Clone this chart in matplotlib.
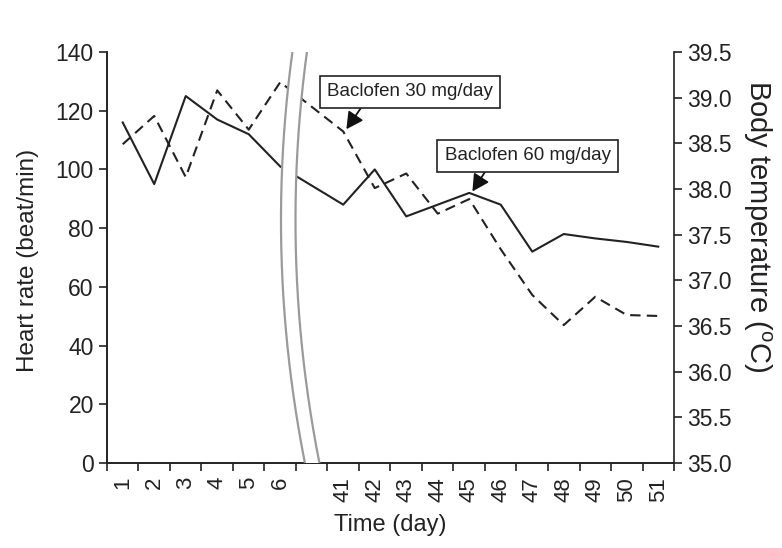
import numpy as np
import matplotlib
matplotlib.use("Agg")
import matplotlib.pyplot as plt
from matplotlib.patches import Polygon

plt.rcParams['font.family'] = ['Liberation Sans', 'DejaVu Sans']
plt.rcParams['mathtext.fontset'] = 'custom'
plt.rcParams['mathtext.rm'] = 'Liberation Sans'
plt.rcParams['mathtext.it'] = 'Liberation Sans:italic'

# ---- data ----
day_labels = ['1', '2', '3', '4', '5', '6', '', '41', '42', '43', '44', '45',
              '46', '47', '48', '49', '50', '51']
days = ['1', '2', '3', '4', '5', '6', '41', '42', '43', '44', '45',
        '46', '47', '48', '49', '50', '51']
heart_rate = [116, 95, 125, 117, 112, 101, 88, 100, 84, 88, 92, 88, 72, 78, 76.5, 75.3, 73.7]
body_temp = [38.49, 38.80, 38.13, 39.08, 38.65, 39.17, 38.63, 38.01, 38.17, 37.73,
             37.89, 37.34, 36.84, 36.51, 36.82, 36.62, 36.61]
hr_ticks = [0, 20, 40, 60, 80, 100, 120, 140]
temp_ticks = [35.0, 35.5, 36.0, 36.5, 37.0, 37.5, 38.0, 38.5, 39.0, 39.5]

x = np.array([day_labels.index(d) for d in days], dtype=float)
ink = '#222222'

fig = plt.figure(figsize=(7.82, 5.48), dpi=100)
ax = fig.add_axes([0.1368, 0.1551, 0.7251, 0.7500])
ax2 = ax.twinx()

ax.plot(x, heart_rate, color=ink, lw=1.5, zorder=2)
ax2.plot(x, body_temp, color=ink, lw=1.5, ls=(0, (5, 3)), zorder=2)

n = len(day_labels)
ax.set_xlim(-0.5, n - 0.5)
ax.set_ylim(0, 140)
ax2.set_ylim(35, 39.5)

ax.set_xticks(np.arange(n + 1) - 0.5)
ax.set_xticklabels([])
ax.set_xticks(np.arange(n), minor=True)
ax.set_xticklabels(day_labels, minor=True, rotation=90, fontsize=16)
ax.tick_params(axis='x', which='minor', length=0, pad=10, labelcolor=ink)
ax.tick_params(axis='x', which='major', length=6, width=1.2, direction='out', color=ink)

ax.set_yticks(hr_ticks)
ax.tick_params(axis='y', length=6, width=1.2, labelsize=16.5, color=ink, labelcolor=ink)
ax2.set_yticks(temp_ticks)
ax2.set_yticklabels([f'{t:.1f}' for t in temp_ticks])
ax2.tick_params(axis='y', length=6, width=1.2, labelsize=16.5, color=ink, labelcolor=ink)

for a in (ax, ax2):
    a.spines['top'].set_visible(False)
    for s in ('left', 'right', 'bottom'):
        a.spines[s].set_linewidth(1.2)
        a.spines[s].set_color(ink)
ax.spines['right'].set_visible(False)

ax.set_xlabel('Time (day)', fontsize=17, color=ink, va='center')
ax.xaxis.set_label_coords(0.5, -0.151)
ax.set_ylabel('Heart rate (beat/min)', fontsize=17.5, color=ink, va='center')
ax.yaxis.set_label_coords(-0.139, 0.494)
ax2.set_ylabel(r'Body temperature ($^{\rm o}$C)', fontsize=21, color=ink,
               rotation=270, va='center')
ax2.yaxis.set_label_coords(1.146, 0.575)

# ---- axis break marks ----
yy = np.linspace(0, 1, 200)
ypx = 463 - yy * 411
xl_px = 281 + 4.05e-4 * (ypx - 220) ** 2
xr_px = xl_px + 14.5
xl = (xl_px - 107) / 567
xr = (xr_px - 107) / 567
verts = np.concatenate([np.column_stack([xl, yy]), np.column_stack([xr[::-1], yy[::-1]])])
ax2.add_patch(Polygon(verts, closed=True, fc='white', ec='none',
                      transform=ax2.transAxes, zorder=3))
ax2.plot(xl, yy, color='#9a9a9a', lw=1.6, transform=ax2.transAxes, zorder=4)
ax2.plot(xr, yy, color='#9a9a9a', lw=1.6, transform=ax2.transAxes, zorder=4)

# ---- annotations ----
bbox = dict(boxstyle='square,pad=0.38', fc='white', ec=ink, lw=1.2)
i41 = days.index('41')
i45 = days.index('45')
ax2.annotate('Baclofen 30 mg/day', xy=(x[i41] + 0.1, 113.7), xycoords=ax.transData,
             xytext=(9.12, 126.4), textcoords=ax.transData, ha='center', va='center',
             fontsize=13.5, color=ink, bbox=bbox, zorder=6,
             arrowprops=dict(arrowstyle='-|>,head_length=0.75,head_width=0.4',
                             color='#111111', lw=1.3, shrinkA=0, shrinkB=0,
                             relpos=(0.235, 0.0)))
ax2.annotate('Baclofen 60 mg/day', xy=(x[i45] + 0.1, heart_rate[i45] + 0.5),
             xycoords=ax.transData, xytext=(12.85, 104.6), textcoords=ax.transData,
             ha='center', va='center', fontsize=13.5, color=ink, bbox=bbox, zorder=6,
             arrowprops=dict(arrowstyle='-|>,head_length=0.75,head_width=0.4',
                             color='#111111', lw=1.3, shrinkA=0, shrinkB=0,
                             relpos=(0.273, 0.0)))

fig.savefig('out.png', dpi=100)
